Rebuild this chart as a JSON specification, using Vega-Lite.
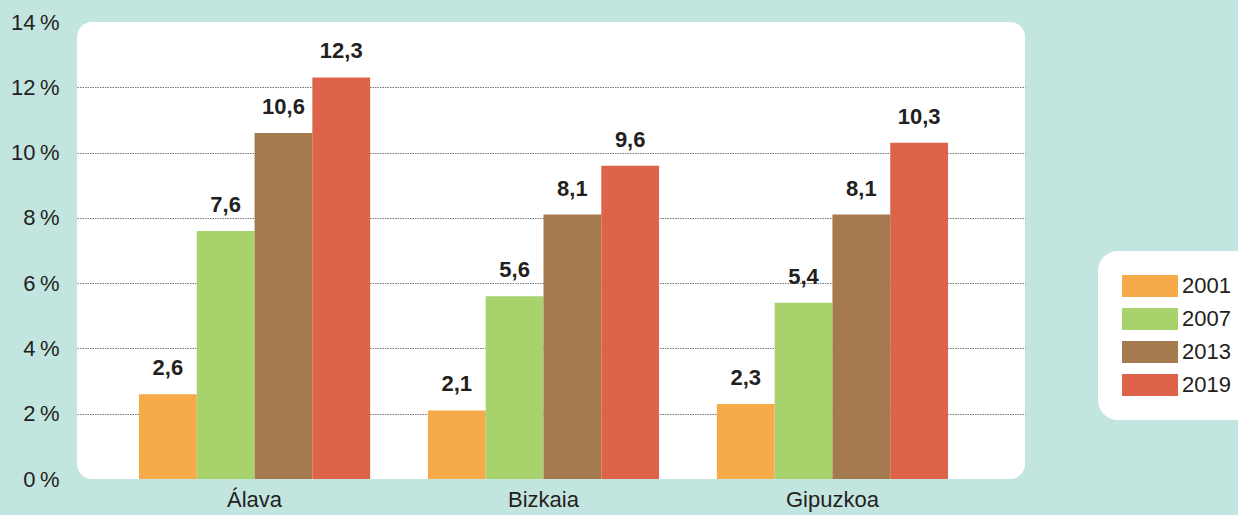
{
  "$schema": "https://vega.github.io/schema/vega-lite/v6.json",
  "width": 948,
  "height": 457,
  "autosize": {"type": "none"},
  "padding": {"left": 77, "top": 22, "right": 213, "bottom": 36},
  "background": "#c3e5e0",
  "config": {
    "view": {"fill": "white", "stroke": null, "cornerRadius": 15},
    "locale": {"number": {"decimal": ",", "thousands": ".", "grouping": [3], "currency": ["", " €"]}},
    "font": "Liberation Sans"
  },
  "data": {
    "values": [
      {"region": "Álava", "year": "2001", "value": 2.6},
      {"region": "Álava", "year": "2007", "value": 7.6},
      {"region": "Álava", "year": "2013", "value": 10.6},
      {"region": "Álava", "year": "2019", "value": 12.3},
      {"region": "Bizkaia", "year": "2001", "value": 2.1},
      {"region": "Bizkaia", "year": "2007", "value": 5.6},
      {"region": "Bizkaia", "year": "2013", "value": 8.1},
      {"region": "Bizkaia", "year": "2019", "value": 9.6},
      {"region": "Gipuzkoa", "year": "2001", "value": 2.3},
      {"region": "Gipuzkoa", "year": "2007", "value": 5.4},
      {"region": "Gipuzkoa", "year": "2013", "value": 8.1},
      {"region": "Gipuzkoa", "year": "2019", "value": 10.3}
    ]
  },
  "encoding": {
    "x": {
      "field": "region",
      "type": "nominal",
      "sort": ["Álava", "Bizkaia", "Gipuzkoa"],
      "scale": {"paddingInner": 0.2, "paddingOuter": 0.2405, "align": 0.446},
      "axis": {
        "title": null,
        "labelAngle": 0,
        "labelFontSize": 22,
        "labelColor": "#231f20",
        "ticks": false,
        "domain": false,
        "labelPadding": 10
      }
    },
    "xOffset": {
      "field": "year",
      "type": "nominal",
      "scale": {"paddingInner": 0, "paddingOuter": 0}
    },
    "y": {
      "field": "value",
      "type": "quantitative",
      "scale": {"domain": [0, 14], "nice": false},
      "axis": {
        "title": null,
        "values": [0, 2, 4, 6, 8, 10, 12, 14],
        "labelExpr": "datum.value + '\u2009%'",
        "labelFontSize": 22,
        "labelColor": "#231f20",
        "labelPadding": 18,
        "ticks": false,
        "domain": false,
        "grid": true,
        "gridColor": "#777777",
        "gridDash": [1.5, 1],
        "gridWidth": 1,
        "gridOpacity": {"condition": {"test": "datum.value === 0 || datum.value === 14", "value": 0}, "value": 1}
      }
    }
  },
  "layer": [
    {
      "mark": {"type": "bar"},
      "encoding": {
        "color": {
          "field": "year",
          "type": "nominal",
          "scale": {"domain": ["2001", "2007", "2013", "2019"], "range": ["#f7aa4a", "#a8d26c", "#a57a4f", "#dd634a"]},
          "legend": {
            "orient": "none",
            "legendX": 1021,
            "legendY": 229,
            "title": null,
            "fillColor": "white",
            "cornerRadius": 20,
            "padding": 24,
            "symbolType": "M-1,-1H4.09V1H-1Z",
            "symbolSize": 484,
            "symbolStrokeWidth": 0,
            "symbolOpacity": 1,
            "labelFontSize": 22,
            "labelColor": "#231f20",
            "labelOffset": 38,
            "rowPadding": 11
          }
        }
      }
    },
    {
      "mark": {"type": "text", "fontWeight": "bold", "fontSize": 22, "dy": -19, "baseline": "alphabetic", "color": "#231f20"},
      "encoding": {
        "text": {"field": "value", "type": "quantitative", "format": ".1f"}
      }
    }
  ]
}
